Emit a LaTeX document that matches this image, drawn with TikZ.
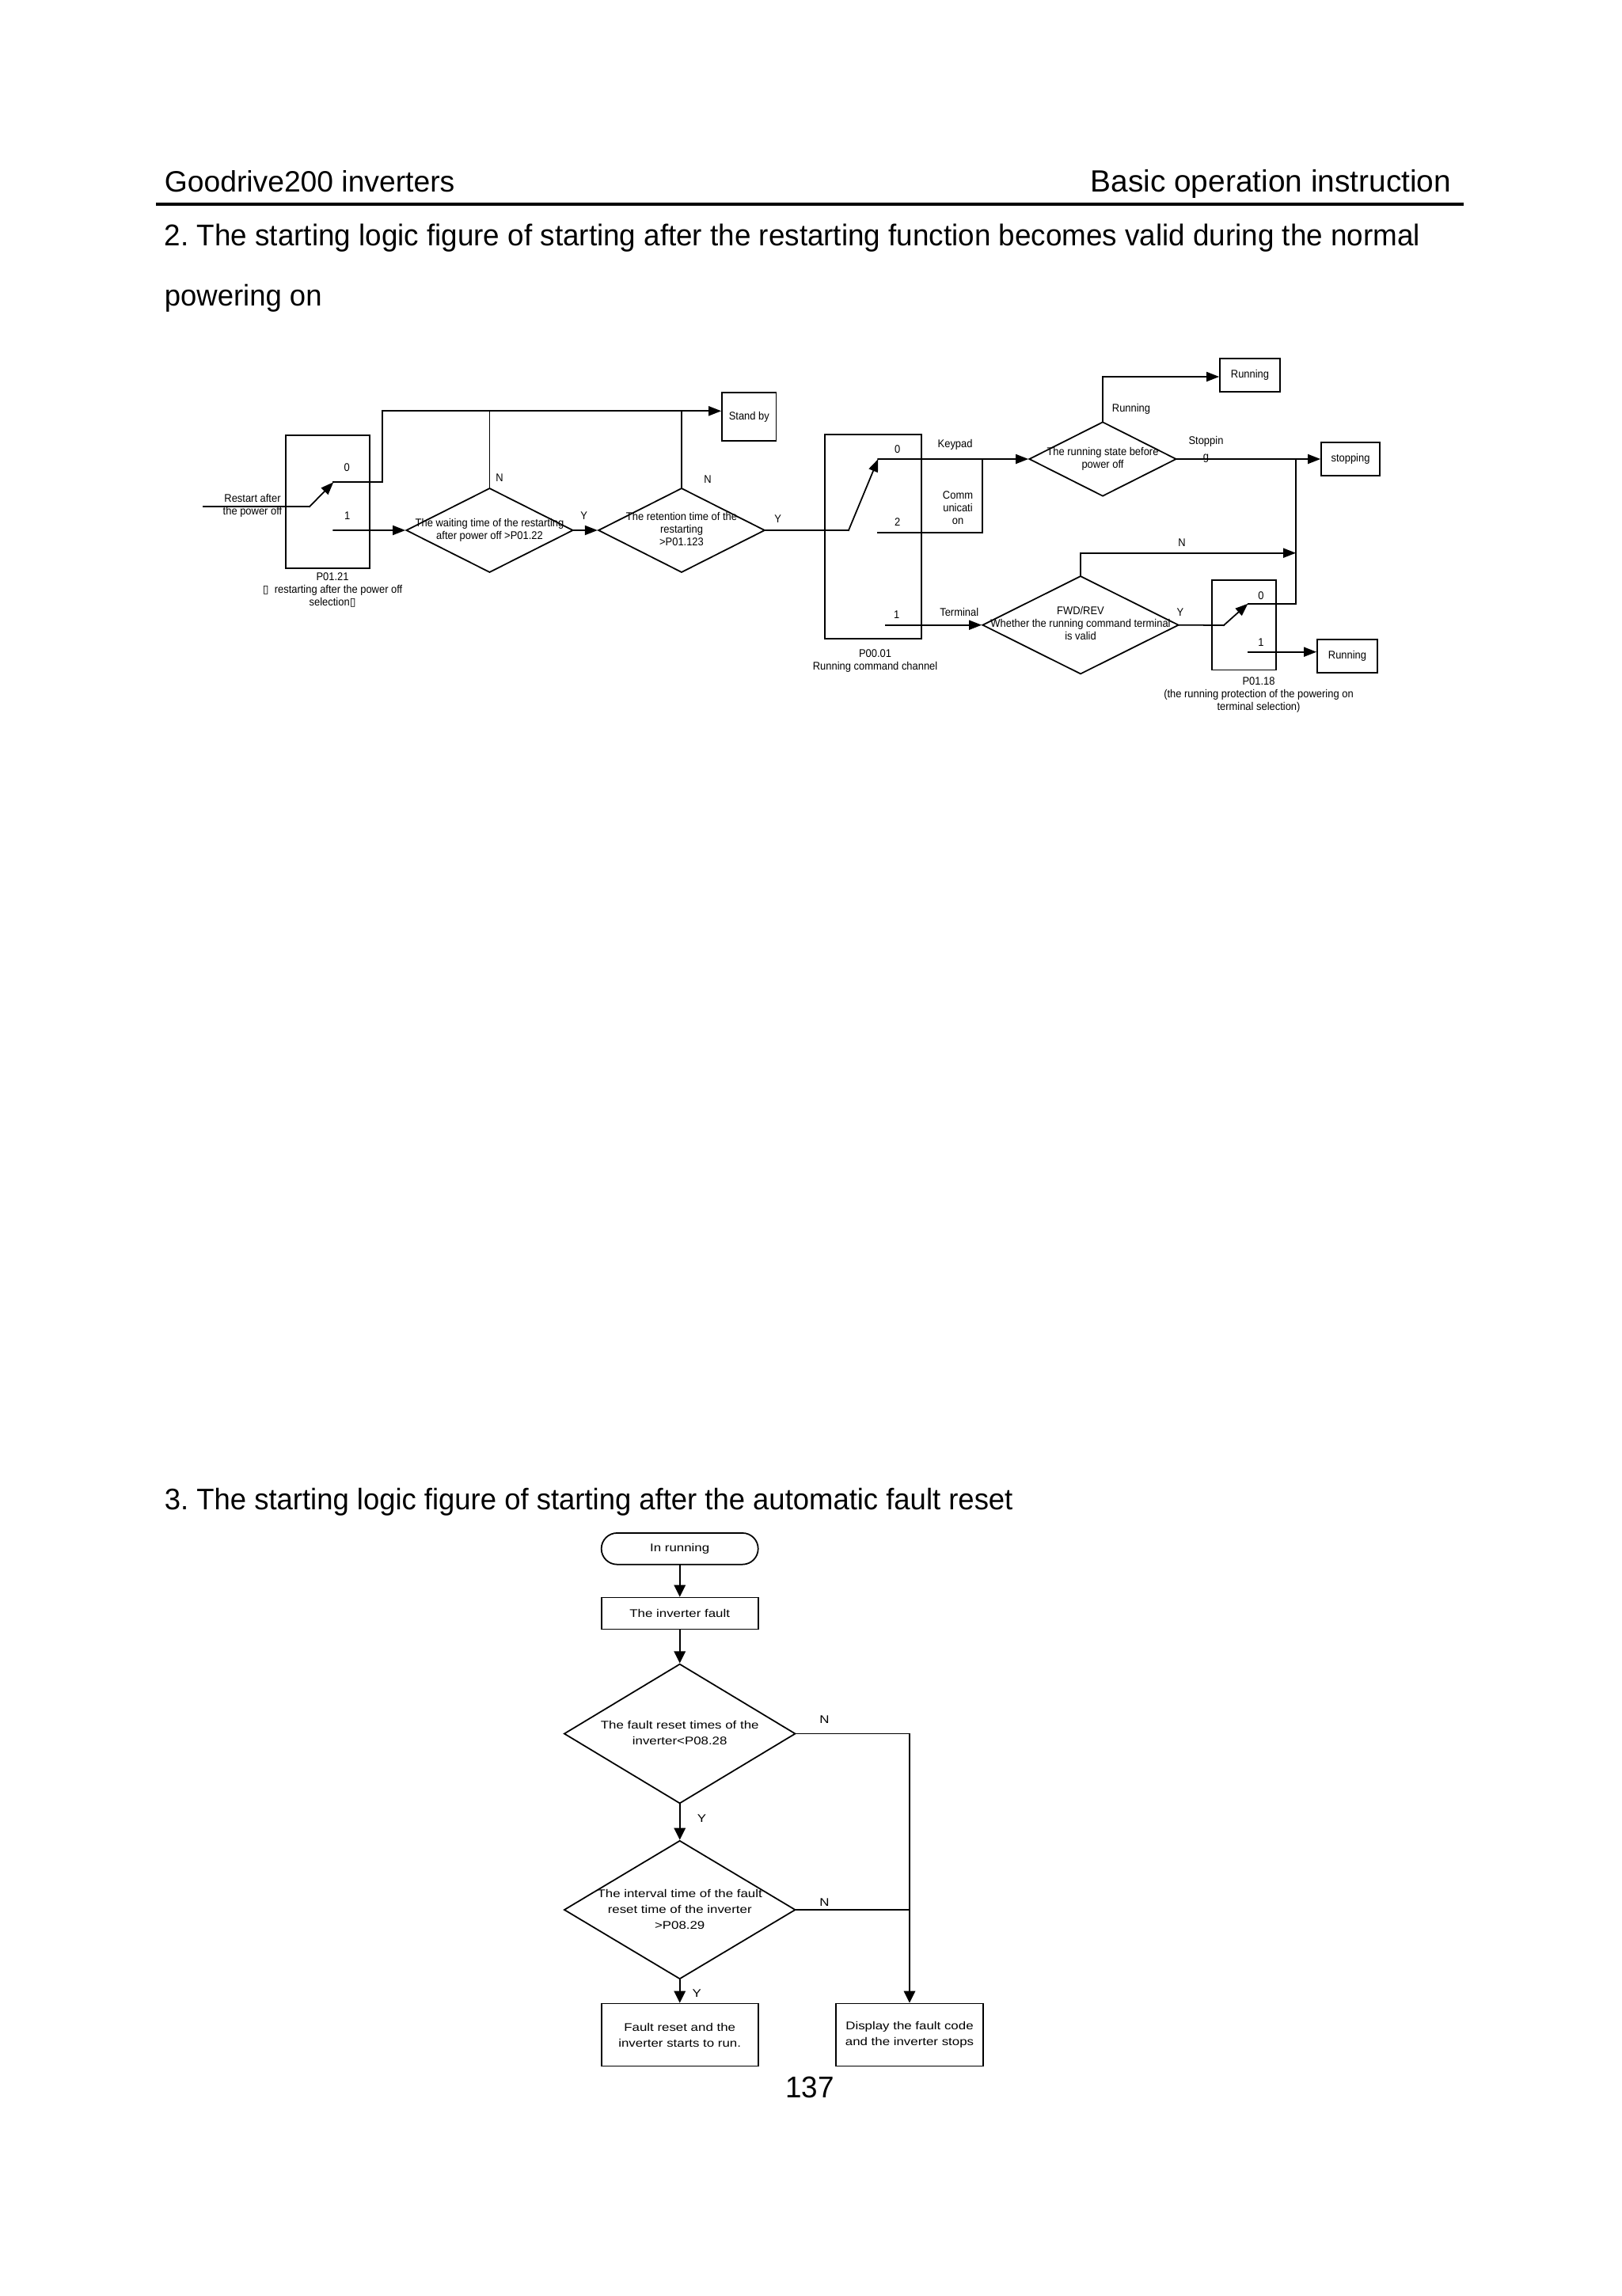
\documentclass[tikz,border=0pt]{standalone}
\usepackage{fontspec}
\setmainfont{Liberation Sans}
\newfontfamily\bodyfont[FakeStretch=0.97]{Liberation Sans}
\newfontfamily\topfont[FakeStretch=0.92]{Liberation Sans}
\newfontfamily\lowfont[FakeStretch=1.2]{Liberation Sans}
\newfontfamily\tofufont{DejaVu Sans}
\usetikzlibrary{arrows.meta,positioning,shapes.geometric}
\frenchspacing
\newcommand{\dtext}[1]{\makebox[0pt]{\begin{tabular}{@{}c@{}}#1\end{tabular}}}
\newcommand{\tofu}{{\tofufont\symbol{"25AF}}}
\tikzset{
  on grid,
  lbl/.style={inner sep=0pt,align=center,font=\fontsize{4.0}{4.55}\selectfont\topfont},
  lowlbl/.style={inner sep=0pt,align=center,font=\fontsize{4.0}{5.7}\selectfont\lowfont},
  pagetext/.style={inner sep=0pt,anchor=base west,font=\fontsize{10.8}{13}\selectfont\bodyfont},
  selbox/.style 2 args={draw,inner sep=0pt,minimum width=#1,minimum height=#2},
  decide/.style 2 args={diamond,draw,inner sep=0pt,minimum width=#1,minimum height=#2}
}

\begin{document}
\begin{tikzpicture}[line width=0.5pt]
  \useasboundingbox (0,0) rectangle (20.48,-29.01);
  \begin{scope}
    % page text
    \node[pagetext,font=\fontsize{10.6}{13}\selectfont] (head1) at (2.07,-2.42) {Goodrive200 inverters};
    \node[pagetext,anchor=base east,font=\fontsize{11.05}{13}\selectfont] (head2) at (18.34,-2.42) {Basic operation instruction};
    \coordinate (ruleL) at (1.995,-2.58);
    \coordinate (ruleR) at (18.47,-2.58);
    \node[pagetext] (title2a) at (2.07,-3.10) {2. The starting logic figure of starting after the restarting function becomes valid during the normal};
    \node[pagetext,font=\fontsize{10.7}{13}\selectfont\bodyfont] (title2b) at (2.07,-3.86) {powering on};
    \node[pagetext,font=\fontsize{10.69}{13}\selectfont\bodyfont] (title3) at (2.07,-19.07) {3. The starting logic figure of starting after the automatic fault reset};
    \node[pagetext,anchor=center] (pageno) at (10.229,-26.374) {137};

    % restart part
    \node[selbox={1.06cm}{1.683cm}] (p0121) at (4.137,-6.342) {};
    \node[decide={2.11cm}{1.066cm},lbl] (d22) [below right=0.358cm and 2.048cm of p0121]
      {\dtext{The waiting time of the restarting\\after power off >P01.22}};
    \node[decide={2.105cm}{1.066cm},lbl] (d123) [right=2.425cm of d22]
      {\dtext{The retention time of the\\restarting\\>P01.123}};
    \node[selbox={0.685cm}{0.61cm},lbl] (standby) [above right=1.435cm and 0.853cm of d123] {Stand by};

    \node[lbl] (sel0) [above right=0.434cm and 0.244cm of p0121] {0};
    \node[lbl] (sel1) [below right=0.175cm and 0.25cm of p0121] {1};
    \node[lbl] (restart) [below left=0.046cm and 0.947cm of p0121] {Restart after\\the power off};
    \node[lbl] (p0121txt) [below right=1.11cm and 0.064cm of p0121]
      {P01.21\\\tofu\ \ restarting after the power off\\selection\tofu};
    \node[lbl] (n22) [above right=0.667cm and 0.125cm of d22] {N};
    \node[lbl] (n123) [above right=0.643cm and 0.33cm of d123] {N};
    \node[lbl] (y22) [above right=0.183cm and 1.191cm of d22] {Y};
    \node[lbl] (y123) [above right=0.147cm and 1.216cm of d123] {Y};

    % running command part
    \node[selbox={1.22cm}{2.586cm}] (p0001) [below right=0.08cm and 2.423cm of d123] {};
    \node[decide={1.86cm}{0.94cm},lbl] (dstate) [above right=0.98cm and 2.897cm of p0001]
      {\dtext{The running state before\\power off}};
    \node[selbox={0.76cm}{0.423cm},lbl] (run1) [above right=1.06cm and 1.86cm of dstate] {Running};
    \node[selbox={0.74cm}{0.42cm},lbl] (stopbox) [right=3.13cm of dstate] {stopping};
    \node[decide={2.48cm}{1.24cm},lbl] (dfwd) [below left=2.097cm and 0.28cm of dstate]
      {\dtext{FWD/REV\\Whether the running command terminal\\is valid}};
    \node[selbox={0.81cm}{1.137cm}] (p0118) [right=2.065cm of dfwd] {};
    \node[selbox={0.76cm}{0.42cm},lbl] (run2) [below right=0.39cm and 1.305cm of p0118] {Running};

    \node[lbl] (chan0) [above right=1.107cm and 0.304cm of p0001] {0};
    \node[lbl] (chan2) [above right=0.187cm and 0.304cm of p0001] {2};
    \node[lbl] (chan1) [below right=0.987cm and 0.293cm of p0001] {1};
    \node[lbl] (keypad) [above right=1.163cm and 1.033cm of p0001] {Keypad};
    \node[lbl] (comm) [above right=0.363cm and 1.067cm of p0001] {Comm\\unicati\\on};
    \node[lbl] (terminal) [below right=0.953cm and 1.084cm of p0001] {Terminal};
    \node[lbl] (p0001txt) [below right=1.567cm and 0.023cm of p0001] {P00.01\\Running command channel};
    \node[lbl] (running) [above right=0.627cm and 0.36cm of dstate] {Running};
    \node[lbl] (stopping) [above right=0.123cm and 1.305cm of dstate] {Stoppin\\[1.2pt]g};
    \node[lbl] (nfwd) [above right=1.04cm and 1.28cm of dfwd] {N};
    \node[lbl] (yfwd) [above right=0.164cm and 1.26cm of dfwd] {Y};
    \node[lbl] (prot0) [above right=0.373cm and 0.215cm of p0118] {0};
    \node[lbl] (prot1) [below right=0.223cm and 0.215cm of p0118] {1};
    \node[lbl] (p0118txt) [below right=0.88cm and 0.185cm of p0118]
      {P01.18\\(the running protection of the powering on\\terminal selection)};

    % fault reset part
    \node[selbox={1.98cm}{0.397cm},lowlbl,rounded corners=1.98mm] (inrun) at (8.587,-19.568) {In running};
    \node[selbox={1.98cm}{0.40cm},lowlbl] (fault) [below=0.817cm of inrun] {The inverter fault};
    \node[decide={2.923cm}{1.764cm},lowlbl] (d28) [below=1.52cm of fault]
      {\dtext{The fault reset times of the\\inverter<P08.28}};
    \node[decide={2.923cm}{1.75cm},lowlbl] (d29) [below=2.225cm of d28]
      {\dtext{The interval time of the fault\\reset time of the inverter\\>P08.29}};
    \node[selbox={1.98cm}{0.79cm},lowlbl] (reset) [below=1.58cm of d29] {Fault reset and the\\inverter starts to run.};
    \node[selbox={1.853cm}{0.79cm},lowlbl] (display) [right=2.903cm of reset] {Display the fault code\\and the inverter stops};
    \node[lowlbl] (n28) [above right=0.175cm and 1.828cm of d28] {N};
    \node[lowlbl] (n29) [above right=0.092cm and 1.828cm of d29] {N};
    \node[lowlbl] (y28) [below right=1.075cm and 0.277cm of d28] {Y};
    \node[lowlbl] (y29) [below right=1.056cm and 0.216cm of d29] {Y};

    % free ends and corners
    \coordinate[below left=0.058cm and 1.57cm of p0121] (inA);
    \coordinate[right=1.345cm of inA] (pivA);
    \coordinate[above right=0.307cm and 0.30cm of pivA] (tipA);
    \coordinate[below=0.607cm of tipA] (lowA);
    \coordinate[right=0.615cm of tipA] (bendA);
    \coordinate[above=0.90cm of bendA] (topA);
    \coordinate[right=2.11cm of d123] (pivB);
    \coordinate[above right=0.90cm and 0.373cm of pivB] (tipB);
    \coordinate[below=0.927cm of tipB] (lowB);
    \coordinate[right=1.32cm of lowB] (bendB);
    \coordinate[left=2.46cm of dfwd] (inT);
    \coordinate[above=1.04cm of dstate] (upR);
    \coordinate[above=0.91cm of dfwd] (upN);
    \coordinate[right=2.44cm of dstate] (jS);
    \coordinate[below=1.827cm of jS] (bendC);
    \coordinate[left=0.605cm of bendC] (tipC);
    \coordinate[below left=0.273cm and 0.305cm of tipC] (pivC);
    \coordinate[below=0.61cm of tipC] (lowC);
  \end{scope}

  \begin{scope}[>={Triangle[length=1.6mm,width=1.2mm]},
                every edge/.style={draw=black,line width=0.5pt,line cap=rect}]
    \path (ruleL) edge[line width=1.2pt] (ruleR);

    \path (inA) edge (pivA);
    \path [->] (pivA) edge (tipA);
    \path (tipA) edge (bendA);
    \path (bendA) edge (topA);
    \path [->] (topA) edge (topA -| standby.west);
    \path [->] (lowA) edge (d22.west);
    \path [->] (d22.east) edge (d123.west);
    \path (d22.north) edge (d22.north |- topA);
    \path (d123.north) edge (d123.north |- topA);

    \path (d123.east) edge (pivB);
    \path [->] (pivB) edge (tipB);
    \path [->] (tipB) edge (dstate.west);
    \path (lowB) edge (bendB);
    \path (bendB) edge (bendB |- tipB);
    \path [->] (inT) edge (dfwd.west);
    \path (dstate.north) edge (upR);
    \path [->] (upR) edge (upR -| run1.west);
    \path [->] (dstate.east) edge (stopbox.west);
    \path (dfwd.north) edge (upN);
    \path [->] (upN) edge (upN -| jS);
    \path (jS) edge (bendC);
    \path (bendC) edge (tipC);
    \path (dfwd.east) edge (pivC);
    \path [->] (pivC) edge (tipC);
    \path [->] (lowC) edge (lowC -| run2.west);
  \end{scope}

  \begin{scope}[>={Triangle[length=1.5mm,width=1.45mm]},
                every edge/.style={draw=black,line width=0.5pt,line cap=rect}]
    \path [->] (inrun) edge (fault);
    \path [->] (fault) edge (d28);
    \path [->] (d28) edge (d29);
    \path [->] (d29) edge (reset);
    \path (d28.east) edge (d28.east -| display.north);
    \path (d29.east) edge (d29.east -| display.north);
    \path [->] (d28.east -| display.north) edge (display.north);
  \end{scope}
\end{tikzpicture}
\end{document}
